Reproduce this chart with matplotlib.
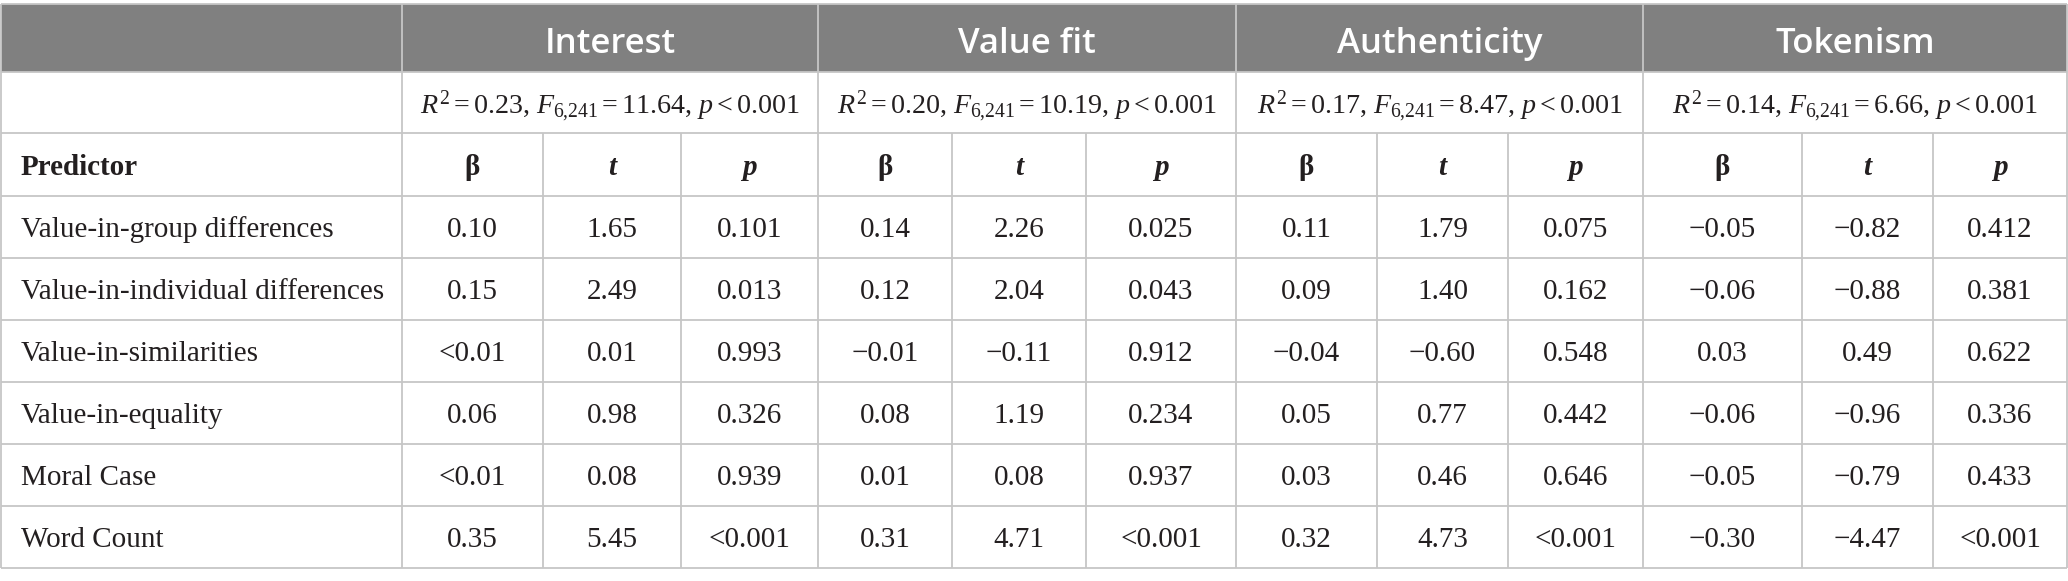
import matplotlib
matplotlib.use('Agg')
import matplotlib.pyplot as plt

plt.rcParams['mathtext.fontset'] = 'custom'
plt.rcParams['mathtext.rm'] = 'Liberation Serif'
plt.rcParams['mathtext.it'] = 'Liberation Serif:italic'
plt.rcParams['mathtext.bf'] = 'Liberation Serif:bold'

# table content
outcomes = ['Interest', 'Value fit', 'Authenticity', 'Tokenism']
model_r2 = ['0.23', '0.20', '0.17', '0.14']
model_f = ['11.64', '10.19', '8.47', '6.66']
model_p = ['< 0.001', '< 0.001', '< 0.001', '< 0.001']

predictors = ['Value-in-group differences', 'Value-in-individual differences',
              'Value-in-similarities', 'Value-in-equality', 'Moral Case', 'Word Count']

interest_beta = ['0.10', '0.15', '<0.01', '0.06', '<0.01', '0.35']
interest_t = ['1.65', '2.49', '0.01', '0.98', '0.08', '5.45']
interest_p = ['0.101', '0.013', '0.993', '0.326', '0.939', '<0.001']

valuefit_beta = ['0.14', '0.12', '\u22120.01', '0.08', '0.01', '0.31']
valuefit_t = ['2.26', '2.04', '\u22120.11', '1.19', '0.08', '4.71']
valuefit_p = ['0.025', '0.043', '0.912', '0.234', '0.937', '<0.001']

authenticity_beta = ['0.11', '0.09', '\u22120.04', '0.05', '0.03', '0.32']
authenticity_t = ['1.79', '1.40', '\u22120.60', '0.77', '0.46', '4.73']
authenticity_p = ['0.075', '0.162', '0.548', '0.442', '0.646', '<0.001']

tokenism_beta = ['\u22120.05', '\u22120.06', '0.03', '\u22120.06', '\u22120.05', '\u22120.30']
tokenism_t = ['\u22120.82', '\u22120.88', '0.49', '\u22120.96', '\u22120.79', '\u22124.47']
tokenism_p = ['0.412', '0.381', '0.622', '0.336', '0.433', '<0.001']

columns = [interest_beta, interest_t, interest_p,
           valuefit_beta, valuefit_t, valuefit_p,
           authenticity_beta, authenticity_t, authenticity_p,
           tokenism_beta, tokenism_t, tokenism_p]

# layout in pixels
W, H = 2068, 581
col_x = [1, 402, 543, 681, 818, 952, 1086, 1236, 1377, 1508, 1643, 1802, 1933, 2067]
row_y = [4, 72, 133, 196, 258, 320, 382, 444, 506, 568]

HEADER_BG = '#808080'
LINE = '#c6c6c6'
TEXT = '#231f20'
SERIF = 'Liberation Serif'
BODY_SIZE = 21

fig = plt.figure(figsize=(W / 100, H / 100), dpi=100)
ax = fig.add_axes([0, 0, 1, 1])
ax.set_xlim(0, W)
ax.set_ylim(H, 0)
ax.axis('off')

# header band
ax.fill_between([col_x[0], col_x[-1]], row_y[0], row_y[1], color=HEADER_BG, lw=0)

# horizontal rules
for y in row_y:
    ax.plot([col_x[0], col_x[-1]], [y, y], color=LINE, lw=1.3, solid_capstyle='butt')

# vertical rules: group borders run full height, sub-column borders start below the fit row
for i, x in enumerate(col_x):
    is_group = (i in (0, 1, 4, 7, 10, 13))
    top = row_y[0] if is_group else row_y[2]
    ax.plot([x, x], [top, row_y[-1]], color=LINE, lw=1.3, solid_capstyle='butt')

def mid(a, b):
    return (a + b) / 2

# header titles
for g, name in enumerate(outcomes):
    x0, x1 = col_x[1 + 3 * g], col_x[4 + 3 * g]
    ax.text(mid(x0, x1), 53, name, ha='center', va='baseline', color='white',
            fontsize=25, family='Open Sans', fontweight='semibold')

# model fit row
for g in range(4):
    x0, x1 = col_x[1 + 3 * g], col_x[4 + 3 * g]
    s = r'$R^{2} = %s{,}\ F_{6{,}241} = %s{,}\ p %s$' % (model_r2[g], model_f[g], model_p[g])
    ax.text(mid(x0, x1), 113, s, ha='center', va='baseline', fontsize=20.2,
            color=TEXT)

# predictor header row
ax.text(21, 175, 'Predictor', ha='left', va='baseline', fontsize=BODY_SIZE,
        family=SERIF, fontweight='bold', color=TEXT)
sub_heads = ['\u03b2', 't', 'p']
for c in range(12):
    x0, x1 = col_x[1 + c], col_x[2 + c]
    head = sub_heads[c % 3]
    style = 'normal' if head == '\u03b2' else 'italic'
    ax.text(mid(x0, x1), 175, head, ha='center', va='baseline', fontsize=BODY_SIZE,
            family=SERIF, fontweight='bold', fontstyle=style, color=TEXT)

# body rows
for r, name in enumerate(predictors):
    base = mid(row_y[3 + r], row_y[4 + r]) + 10
    ax.text(21, base, name, ha='left', va='baseline', fontsize=BODY_SIZE,
            family=SERIF, color=TEXT)
    for c, values in enumerate(columns):
        x0, x1 = col_x[1 + c], col_x[2 + c]
        ax.text(mid(x0, x1), base, values[r], ha='center', va='baseline',
                fontsize=BODY_SIZE, family=SERIF, color=TEXT)

fig.savefig('out.png', dpi=100, facecolor='white')
